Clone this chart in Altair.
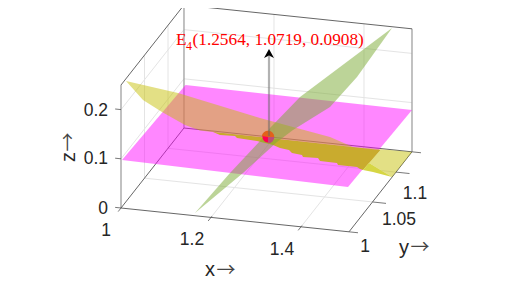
import altair as alt
import pandas as pd

# axis ranges of the 3-D box
X_MIN, X_MAX = 1.0, 1.5067
Y_MIN, Y_MAX = 1.0, 1.134
Z_MIN, Z_MAX = 0.0, 0.25
x_grid = [1.2, 1.4]
y_grid = [1.05, 1.1]
z_grid = [0.1, 0.2]

# surfaces, as projected outlines (u, v)
plane_u = [122, 185.5, 412, 348]
plane_v = [160, 85, 110, 187]

under_u = [200, 213, 220, 235, 237, 257, 273, 280, 289, 292, 302, 303, 318, 320, 337, 338, 357, 360, 363, 380.5]
under_v = [130.5, 132, 135, 136, 138, 141, 145, 148, 150, 153, 155, 157, 158, 161, 163, 165, 167, 169, 170, 150]

strip_u = [363, 369, 392, 373]
strip_v = [170, 163, 177, 172]

curved_u = [126, 143, 162, 185, 200, 380.5, 369, 392, 412, 378, 353, 330, 293, 260, 178]
curved_v = [81, 100, 112, 125, 130.5, 150, 163, 177, 152, 149, 147, 137, 127, 118, 93]

steep_u = [195, 230, 260, 270, 300, 392, 357, 330, 293, 277, 243]
steep_v = [213, 173, 141, 128, 97, 28, 77, 107, 130, 142, 173]

head_u = [269, 264, 269, 274]
head_v = [49, 58, 55.5, 58]
stem_u = [269, 269]
stem_v = [136, 56]

point_u = [268]
point_v = [137]
# sphere quarters, degrees clockwise from twelve o'clock
cap_from = [280, 90, 0]
cap_to = [450, 180, 0]

labels = ["1", "1.2", "1.4", "1", "1.05", "1.1", "0", "0.1", "0.2"]
label_u = [111, 192, 282, 365, 399, 415, 108, 108, 108]
label_v = [231, 240, 250, 247, 220, 194, 209, 159, 111]
label_al = ["right", "center", "center", "center", "center", "center", "right", "right", "right"]

titles = ["x", "y", "z"]
title_u = [210, 404, 69]
title_v = [270, 248, 157]
title_angle = [0, 0, 270]
arrow_u = [226, 420, 69]
arrow_v = [271, 248, 142]


def project(x, y, z):
    u = 121 + (x - 1) * 450 + (y - 1) * 470
    v = 208 + (x - 1) * 47 - (y - 1) * 597 - z * 492
    return u, v


U = alt.Scale(domain=[8, 499], range=[0, 491], nice=False, zero=False)
V = alt.Scale(domain=[283, 8], range=[275, 0], nice=False, zero=False)


def enc(base, order=True):
    kw = dict(
        x=alt.X("u:Q", scale=U, axis=None),
        y=alt.Y("v:Q", scale=V, axis=None),
    )
    if order:
        kw["order"] = alt.Order("i:Q")
    return base.encode(**kw)


def poly(us, vs, color, opacity=1.0):
    df = pd.DataFrame({"u": us, "v": vs, "i": range(len(us))})
    return enc(alt.Chart(df).mark_line(filled=True, fill=color, fillOpacity=opacity,
                                       strokeOpacity=0, strokeWidth=0))


def lines(segs, color, width=1.0, opacity=1.0):
    rows = []
    for k, seg in enumerate(segs):
        for i, p in enumerate(seg):
            u, v = project(*p)
            rows.append({"u": u, "v": v, "i": i, "k": k})
    df = pd.DataFrame(rows)
    return enc(alt.Chart(df).mark_line(color=color, strokeWidth=width, opacity=opacity)).encode(
        detail="k:N")


grid_segs = []
for gx in x_grid:
    grid_segs.append([(gx, Y_MIN, 0), (gx, Y_MAX, 0)])
    grid_segs.append([(gx, Y_MAX, 0), (gx, Y_MAX, Z_MAX)])
for gy in y_grid:
    grid_segs.append([(X_MIN, gy, 0), (X_MAX, gy, 0)])
    grid_segs.append([(X_MIN, gy, 0), (X_MIN, gy, Z_MAX)])
for gz in z_grid:
    grid_segs.append([(X_MIN, Y_MIN, gz), (X_MIN, Y_MAX, gz)])
    grid_segs.append([(X_MIN, Y_MAX, gz), (X_MAX, Y_MAX, gz)])

dark_segs = [
    [(X_MIN, Y_MIN, 0), (X_MAX, Y_MIN, 0)],
    [(X_MAX, Y_MIN, 0), (X_MAX, Y_MAX, 0)],
    [(X_MIN, Y_MIN, 0), (X_MIN, Y_MAX, 0)],
    [(X_MIN, Y_MAX, 0), (X_MAX, Y_MAX, 0)],
    [(X_MIN, Y_MIN, Z_MAX), (X_MIN, Y_MAX, Z_MAX)],
    [(X_MIN, Y_MAX, Z_MAX), (X_MAX, Y_MAX, Z_MAX)],
]
gray_segs = [
    [(X_MIN, Y_MIN, 0), (X_MIN, Y_MIN, Z_MAX)],
    [(X_MIN, Y_MAX, 0), (X_MIN, Y_MAX, Z_MAX)],
    [(X_MAX, Y_MAX, 0), (X_MAX, Y_MAX, Z_MAX)],
]
tick_segs = []
for gx in x_grid:
    tick_segs.append([(gx, Y_MIN + 0.002, 0), (gx, Y_MIN - 0.006, 0)])
tick_segs.append([(X_MAX, Y_MIN, 0), (X_MAX + 0.02, Y_MIN, 0)])
for gy in y_grid:
    tick_segs.append([(X_MAX, gy, 0), (X_MAX + 0.03, gy, 0)])
tick_segs.append([(X_MAX, Y_MAX, 0), (X_MAX + 0.02, Y_MAX, 0)])
for gz in [0.0] + z_grid:
    tick_segs.append([(X_MIN, Y_MIN, gz), (X_MIN - 0.013, Y_MIN, gz)])
tick_segs.append([(X_MIN, Y_MIN, 0), (X_MIN, Y_MIN - 0.006, 0)])

layers = [
    lines(grid_segs, "#e4e4e4", 1.0),
    lines(gray_segs, "#a0a0a0", 1.3),
    lines(dark_segs, "#555555", 0.9),
    lines(tick_segs, "#555555", 0.8),
    poly(plane_u, plane_v, "#ff00ff", 0.47),
    poly(under_u, under_v, "#c9ab2e"),
    poly(strip_u, strip_v, "#d6d644"),
    poly(curved_u, curved_v, "#c4be00", 0.48),
    poly(steep_u, steep_v, "#79aa32", 0.5),
]

pt = pd.DataFrame({"u": point_u, "v": point_v})
layers.append(enc(alt.Chart(pt).mark_circle(color="#ff0050", size=125, opacity=1), order=False))
arc_colors = ["#e2621a", "#bb4d78"]
for a, b, c in zip(cap_from, cap_to, arc_colors):
    layers.append(enc(alt.Chart(pt).mark_arc(
        radius=6.3, theta=a * 3.14159265 / 180, theta2=b * 3.14159265 / 180, color=c), order=False))

stem = pd.DataFrame({"u": stem_u, "v": stem_v, "i": [0, 1]})
layers.append(enc(alt.Chart(stem).mark_line(color="#666666", strokeWidth=2.2, opacity=0.5)))
layers.append(poly(head_u, head_v, "#000000"))


def text(t, u, v, size, color="#262626", font="Liberation Sans", align="center", angle=0, baseline="middle"):
    df = pd.DataFrame({"u": [u], "v": [v], "t": [t]})
    return enc(alt.Chart(df).mark_text(font=font, fontSize=size, color=color, align=align,
                                       angle=angle, baseline=baseline), order=False).encode(text="t:N")


for t, u, v, al in zip(labels, label_u, label_v, label_al):
    layers.append(text(t, u, v, 17.5, align=al))
for t, u, v, a in zip(titles, title_u, title_v, title_angle):
    layers.append(text(t, u, v, 20, angle=a))
for u, v, a in zip(arrow_u, arrow_v, title_angle):
    layers.append(text("→", u, v, 19, color="#444444", font="Noto Sans CJK SC", angle=a))

layers.append(text("E", 176, 44.5, 17.3, color="#ff0000", font="Liberation Serif", align="left", baseline="alphabetic"))
layers.append(text("4", 186, 49.5, 12, color="#ff0000", font="Liberation Serif", align="left", baseline="alphabetic"))
layers.append(text("(1.2564, 1.0719, 0.0908)", 192.5, 44.5, 17.3, color="#ff0000", font="Liberation Serif", align="left", baseline="alphabetic"))

chart = alt.layer(*layers).properties(
    width=491, height=275, padding=0,
    autosize=alt.AutoSizeParams(type="none"),
).configure_view(stroke=None)

chart.save("out.html", embed_options={"renderer": "svg", "actions": False})
